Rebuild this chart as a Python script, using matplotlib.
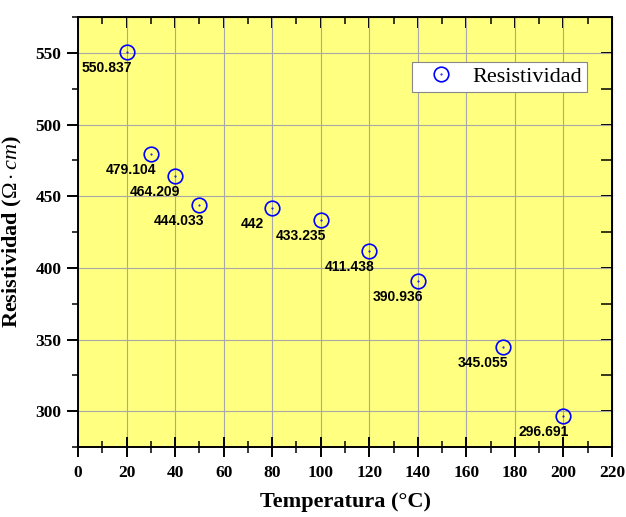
import matplotlib
matplotlib.use("Agg")
import matplotlib.pyplot as plt
from matplotlib.ticker import MultipleLocator
from matplotlib.legend_handler import HandlerTuple

# datos
temperatura = [20, 30, 40, 50, 80, 100, 120, 140, 175, 200]
resistividad = [550.837, 479.104, 464.209, 444.033, 442, 433.235,
                411.438, 390.936, 345.055, 296.691]
etiquetas = [f"{v:g}" for v in resistividad]

plt.rcParams['mathtext.fontset'] = 'custom'
plt.rcParams['mathtext.rm'] = 'Liberation Serif'
plt.rcParams['mathtext.it'] = 'Liberation Serif:italic'
plt.rcParams['mathtext.bf'] = 'Liberation Serif:bold'

fig = plt.figure(figsize=(6.26, 5.17), dpi=100)
ax = fig.add_axes([78/626, 1-447/517, (612-78)/626, (447-17)/517])
ax.set_facecolor('#FFFF80')

circ, = ax.plot(temperatura, resistividad, 'o', ms=10.5, mfc='none', mec='blue',
                mew=1.2, zorder=3)
punto, = ax.plot(temperatura, resistividad, '.', ms=1, color='blue', zorder=4)

for xv, yv, lab in zip(temperatura, resistividad, etiquetas):
    ax.annotate(lab, (xv, yv), xytext=(-20, -16), textcoords='offset pixels',
                ha='center', va='center', fontsize=10, fontweight='bold',
                family='Liberation Sans')

ax.set_xlim(0, 220)
ax.set_ylim(275, 575)
ax.xaxis.set_major_locator(MultipleLocator(20))
ax.xaxis.set_minor_locator(MultipleLocator(10))
ax.yaxis.set_major_locator(MultipleLocator(50))
ax.yaxis.set_minor_locator(MultipleLocator(25))
ax.grid(True, which='major', color='#a8a8a8', linewidth=0.8)
ax.set_axisbelow(True)

ax.tick_params(axis='x', which='major', direction='inout', length=14, width=1.4, pad=6)
ax.tick_params(axis='x', which='minor', direction='inout', length=8, width=1.1)
ax.tick_params(axis='y', which='major', direction='out', length=8, width=1.4, pad=4)
ax.tick_params(axis='y', which='minor', direction='out', length=4, width=1.1)
for sp in ax.spines.values():
    sp.set_linewidth(1.4)

top = ax.secondary_xaxis('top')
top.xaxis.set_major_locator(MultipleLocator(20))
top.xaxis.set_minor_locator(MultipleLocator(10))
top.tick_params(which='major', direction='in', length=8, width=1.4, labeltop=False)
top.tick_params(which='minor', direction='in', length=5, width=1.1)
right = ax.secondary_yaxis('right')
right.yaxis.set_major_locator(MultipleLocator(50))
right.yaxis.set_minor_locator(MultipleLocator(25))
right.tick_params(which='major', direction='in', length=8, width=1.4, labelright=False)
right.tick_params(which='minor', direction='in', length=8, width=1.1)

for lab in ax.get_xticklabels() + ax.get_yticklabels():
    lab.set_fontfamily('Liberation Serif')
    lab.set_fontweight('bold')
    lab.set_fontsize(12.5)

ax.set_xlabel('Temperatura (°C)', fontsize=16, fontweight='bold',
              family='Liberation Serif', labelpad=8)
ax.set_ylabel(r'Resistividad ($\mathit{\Omega} \cdot \mathit{cm}$)', fontsize=16,
              fontweight='bold', family='Liberation Serif', labelpad=8)

leg = ax.legend([(circ, punto)], ['Resistividad'], handler_map={tuple: HandlerTuple(ndivide=1)},
                loc='upper right', bbox_to_anchor=(0.953, 0.895), borderaxespad=0,
                fancybox=False, framealpha=1, edgecolor='#888888',
                prop={'family': 'Liberation Serif', 'size': 16},
                handlelength=2.2, borderpad=0.2, handletextpad=0.35)
leg.get_frame().set_linewidth(0.8)

fig.savefig('out.png', dpi=100)
